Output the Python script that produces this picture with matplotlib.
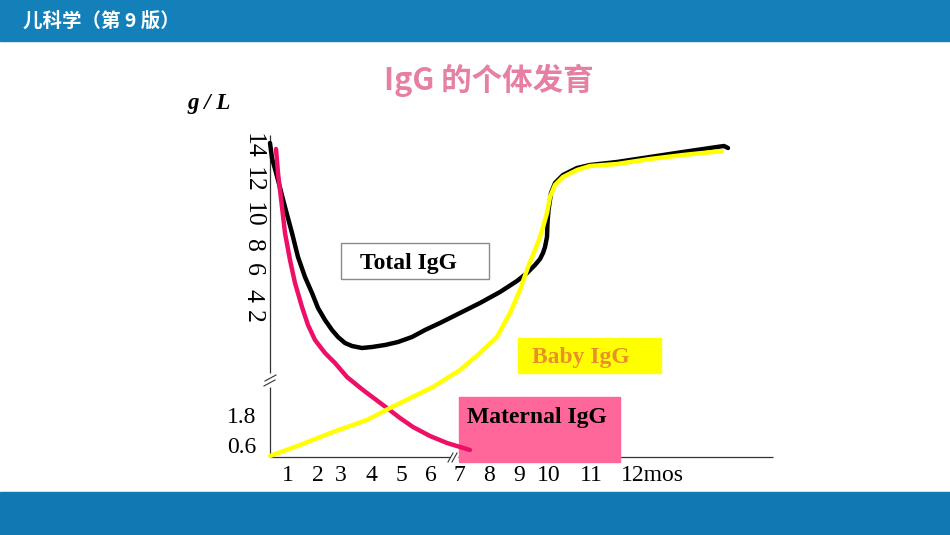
import numpy as np
import matplotlib
matplotlib.use("Agg")
import matplotlib.pyplot as plt
from matplotlib.patches import Rectangle

# curve points, axis units (1 unit = 10 px of the slide)
total_x = [0.0, 0.2, 0.8, 1.5, 2.2, 2.8, 3.5, 4.2, 4.8, 5.5, 6.2, 6.8, 7.5, 8.2, 9.2, 10.2,
           11.5, 12.8, 14.2, 15.5, 17.0, 19.0, 21.0, 23.0, 24.7, 25.7, 26.5, 27.0, 27.3,
           27.5, 27.7, 27.75, 27.85, 28.1, 28.5, 29.3, 30.7, 32.0, 34.7, 38.0, 41.3, 44.7,
           45.4, 45.8]
total_y = [31.4, 29.9, 27.7, 25.0, 22.4, 20.0, 18.0, 16.4, 14.9, 13.7, 12.7, 12.0, 11.4, 11.1,
           10.9, 11.0, 11.2, 11.5, 12.0, 12.7, 13.4, 14.4, 15.4, 16.5, 17.6, 18.4, 19.2, 19.8,
           20.4, 21.0, 22.0, 23.4, 24.7, 26.4, 27.4, 28.2, 28.9, 29.2, 29.5, 30.0, 30.5, 31.0,
           31.1, 30.9]

maternal_x = [0.6, 0.8, 1.2, 1.5, 2.0, 2.5, 3.2, 3.8, 4.5, 5.5, 6.5, 7.7, 9.3, 11.7, 13.0,
              14.3, 16.0, 17.7, 20.0]
maternal_y = [30.8, 28.4, 25.0, 22.4, 19.7, 17.4, 15.0, 13.2, 11.7, 10.4, 9.4, 8.0, 6.7, 4.9,
              3.9, 3.0, 2.1, 1.4, 0.7]

baby_x = [0.0, 3.0, 6.3, 9.7, 12.0, 16.3, 19.0, 21.0, 22.7, 24.0, 25.0, 25.8, 26.5, 27.0,
          27.3, 27.7, 28.0, 28.5, 29.3, 30.7, 32.0, 34.7, 38.0, 41.3, 45.2]
baby_y = [0.1, 1.2, 2.5, 3.7, 4.9, 7.0, 8.7, 10.4, 12.0, 14.4, 16.7, 19.0, 20.7, 22.0,
          23.0, 24.4, 26.0, 27.2, 28.0, 28.7, 29.1, 29.3, 29.8, 30.2, 30.6]

xtick_pos = [1.8, 4.8, 7.1, 10.1, 13.1, 16.1, 18.9, 21.9, 24.9, 27.9, 32.1, 38.2]
xtick_labels = ["1", "2", "3", "4", "5", "6", "7", "8", "9", "10", "11", "12mos"]
ytick_pos = [1.2, 4.2]
ytick_labels = ["0.6", "1.8"]
# upper (rotated) scale above the axis break
upper_pos = [31.15, 27.7, 24.2, 21.2, 18.75, 16.15, 14.05]
upper_labels = ["14", "12", "10", "8", "6", "4", "2"]

W, H = 950, 535
fig = plt.figure(figsize=(W / 100, H / 100), dpi=100)
serif = "Liberation Serif"
cjk = ["Noto Sans CJK SC", "DejaVu Sans"]


def fx(px):
    return px / W


def fy(py):
    return 1 - py / H


# slide background: header and footer bars
fig.patches.append(Rectangle((0, fy(41)), 1, 41 / H, transform=fig.transFigure,
                             color="#1380BA", zorder=0))
fig.patches.append(Rectangle((0, 0), 1, (H - 492) / H, transform=fig.transFigure,
                             color="#1278B4", zorder=0))
fig.text(fx(23), fy(21), "儿科学（第 9 版）", color="white", fontsize=14,
         fontweight="bold", family=cjk, va="center", ha="left")
fig.text(fx(489), fy(80), "IgG 的个体发育", color="#E67FA4", fontsize=22,
         fontweight="bold", family=cjk, va="center", ha="center")
fig.text(fx(187), fy(104), "g / L", fontsize=16.5, fontweight="bold", style="italic",
         family=serif, va="center", ha="left")

# chart axes
ax = fig.add_axes([fx(270), fy(457), fx(773) - fx(270), (457 - 130) / H])
ax.set_xlim(0, 50.3)
ax.set_ylim(0, 32.7)
for s in ax.spines.values():
    s.set_visible(False)
ax.patch.set_alpha(0)

axis_kw = dict(color="#333333", lw=0.9, zorder=2, solid_capstyle="butt", clip_on=False)
ax.plot([0, 18.0], [0, 0], **axis_kw)
ax.plot([18.8, 50.3], [0, 0], **axis_kw)
ax.plot([0, 0], [0, 7.0], **axis_kw)
ax.plot([0, 0], [8.4, 32.2], **axis_kw)
# break marks
for (x0, y0, x1, y1) in [(265, 381, 276, 375), (264, 386, 275, 380),
                         (448, 462, 453, 453), (452, 462, 457, 453)]:
    fig.add_artist(plt.Line2D([fx(x0), fx(x1)], [fy(y0), fy(y1)], color="#333333",
                              lw=0.8, transform=fig.transFigure))

ax.set_xticks(xtick_pos, xtick_labels, fontsize=17, family=serif)
ax.set_yticks(ytick_pos, ytick_labels, fontsize=17, family=serif)
ax.tick_params(length=0, pad=6)
ax.tick_params(axis="y", pad=10)
for pos, lab in zip(upper_pos, upper_labels):
    ax.text(-1.75, pos, lab, rotation=-90, fontsize=18.5, family=serif,
            va="center", ha="center", clip_on=False)


# label boxes, under the curves but over the axis line
def box(x0, y0, x1, y1, face, edge=None):
    ax.add_patch(Rectangle((fx(x0), fy(y1)), fx(x1) - fx(x0), (y1 - y0) / H,
                           transform=fig.transFigure, facecolor=face,
                           edgecolor=edge if edge else face, lw=1, zorder=3,
                           clip_on=False))


box(341, 243, 489, 279, "white", "#8A8A8A")
box(518, 338, 661, 373, "#FFFF00")
box(459, 397, 620, 462, "#FF6699")

line_kw = dict(lw=3.2, solid_joinstyle="round", solid_capstyle="round", clip_on=False)
ax.plot(maternal_x, maternal_y, color="#EE0F66", zorder=5, **line_kw)
ax.plot(total_x, total_y, color="black", zorder=4, **line_kw)
ax.plot(baby_x, baby_y, color="#FFFF00", zorder=5, **line_kw)

lab_kw = dict(fontsize=17, fontweight="bold", family=serif, va="center", ha="left",
              zorder=10)
fig.text(fx(360), fy(263), "Total IgG", color="black", **lab_kw)
fig.text(fx(532), fy(358), "Baby IgG", color="#E8902C", **lab_kw)
fig.text(fx(467), fy(417), "Maternal IgG", color="black", **lab_kw)

fig.savefig("out.png", dpi=100)
